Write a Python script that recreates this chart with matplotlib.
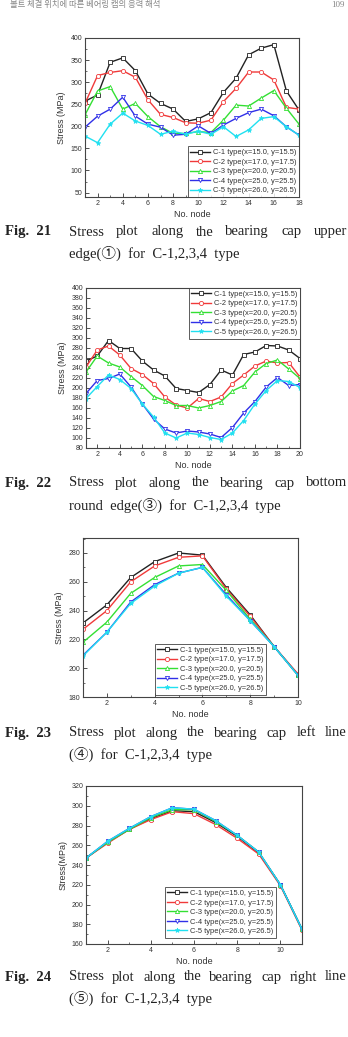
import matplotlib
matplotlib.use("Agg")
import matplotlib.pyplot as plt
from matplotlib.ticker import MultipleLocator

plt.rcParams['font.family'] = ['Liberation Sans', 'DejaVu Sans']

labels = ["C-1 type(x=15.0, y=15.5)", "C-2 type(x=17.0, y=17.5)",
          "C-3 type(x=20.0, y=20.5)", "C-4 type(x=25.0, y=25.5)",
          "C-5 type(x=26.0, y=26.5)"]
colors = ['#222222', '#f03a3a', '#33e033', '#3030e8', '#20e0f0']
markers = ['s', 'o', '^', 'v', '*']
mfills = ['none', 'none', 'none', 'none', 'full']

# Fig 21: upper edge (nodes 1..18)
nodes21 = list(range(1, 19))
f21_c1 = [257, 271, 345, 355, 326, 273, 252, 239, 211, 217, 231, 277, 309, 362, 377, 385, 280, 237]
f21_c2 = [252, 315, 322, 326, 311, 260, 227, 220, 208, 207, 214, 256, 286, 323, 323, 305, 243, 239]
f21_c3 = [226, 280, 290, 239, 252, 222, 199, 184, 184, 188, 186, 214, 248, 246, 264, 281, 241, 205]
f21_c4 = [198, 223, 239, 266, 223, 205, 198, 180, 182, 201, 184, 203, 218, 231, 239, 224, 199, 180]
f21_c5 = [178, 163, 205, 230, 212, 202, 182, 189, 182, 189, 182, 199, 177, 192, 218, 222, 199, 180]

# Fig 22: bottom round edge (nodes 1..20)
nodes22 = list(range(1, 21))
f22_c1 = [254, 264, 295, 279, 279, 254, 236, 224, 199, 195, 191, 207, 236, 226, 267, 272, 285, 284, 276, 259]
f22_c2 = [242, 276, 284, 266, 239, 227, 209, 182, 166, 160, 179, 173, 182, 209, 226, 244, 254, 250, 251, 222]
f22_c3 = [232, 264, 250, 242, 223, 205, 183, 175, 165, 165, 160, 165, 173, 194, 205, 232, 249, 256, 238, 219]
f22_c4 = [189, 215, 219, 228, 202, 168, 138, 118, 110, 114, 112, 108, 101, 121, 150, 173, 202, 221, 205, 207]
f22_c5 = [179, 203, 226, 217, 199, 168, 142, 110, 100, 110, 107, 101, 97, 110, 135, 168, 195, 215, 213, 201]

# Fig 23: left line (nodes 1..10)
nodes23 = list(range(1, 11))
f23_c1 = [231.4, 244, 263, 274, 280, 278.5, 256, 237, 215, 195.5]
f23_c2 = [227, 240, 260, 271, 277, 278, 255, 236, 215, 196]
f23_c3 = [218, 232, 252, 263, 271, 272, 254, 234, 215, 195]
f23_c4 = [209, 225, 246, 258, 266, 270, 251, 233, 215, 195]
f23_c5 = [208.5, 225, 245, 257, 266, 270, 250, 233, 215, 195]

# Fig 24: right line (nodes 1..11)
nodes24 = list(range(1, 12))
f24_c1 = [247, 263, 276, 287, 295, 294, 283, 269, 252, 220, 175]
f24_c2 = [247, 262, 276, 286, 294, 292, 281, 267, 251, 219, 174]
f24_c3 = [247, 263, 276, 288, 296, 296, 284, 270, 253, 220, 175]
f24_c4 = [247, 264, 277, 289, 298, 296.5, 285, 270, 253, 220, 175]
f24_c5 = [247, 264, 277, 289, 298, 296.5, 285, 270, 253, 220, 175]

W, H = 348, 1037
fig = plt.figure(figsize=(W / 100, H / 100), dpi=100)
fig.patch.set_facecolor('white')


def make_axes(l, r, t, b):
    return fig.add_axes([l / W, 1 - b / H, (r - l) / W, (b - t) / H])


def draw(ax, nodes, series, xlim, ylim, ymaj, ymin, ylabel, leg_bbox, leg_loc):
    for vals, c, m, fs, lab in zip(series, colors, markers, mfills, labels):
        if fs == 'none':
            ax.plot(nodes, vals, color=c, lw=1.0, marker=m, ms=3, mfc='white',
                    mec=c, mew=0.6, label=lab)
        else:
            ax.plot(nodes, vals, color=c, lw=1.0, marker=m, ms=3.5, mfc=c,
                    mec=c, mew=0.5, label=lab)
    ax.set_xlim(*xlim)
    ax.set_ylim(*ylim)
    ax.xaxis.set_major_locator(MultipleLocator(2))
    ax.xaxis.set_minor_locator(MultipleLocator(1))
    ax.yaxis.set_major_locator(MultipleLocator(ymaj))
    if ymin:
        ax.yaxis.set_minor_locator(MultipleLocator(ymin))
    ax.tick_params(which='both', direction='in', labelsize=5, pad=2, colors='#333333')
    ax.tick_params(which='major', length=3, width=0.6)
    ax.tick_params(which='minor', length=1.5, width=0.5)
    for s in ax.spines.values():
        s.set_linewidth(0.8)
        s.set_color('#444444')
    ax.set_xlabel("No. node", fontsize=6.5, labelpad=2, color='#333333')
    ax.set_ylabel(ylabel, fontsize=6.5, labelpad=3, color='#333333')
    leg = ax.legend(loc=leg_loc, bbox_to_anchor=leg_bbox, fontsize=5.4,
                    frameon=True, fancybox=False, borderpad=0.35,
                    labelspacing=0.3, handlelength=2.6, handletextpad=0.4,
                    borderaxespad=0)
    leg.get_frame().set_edgecolor('#333333')
    leg.get_frame().set_linewidth(0.7)
    for t in leg.get_texts():
        t.set_color('#333333')


ax1 = make_axes(85, 299, 38, 197)
draw(ax1, nodes21, [f21_c1, f21_c2, f21_c3, f21_c4, f21_c5], (1, 18), (40, 400),
     50, 25, "Stress (MPa)", (1.0, 0.0), 'lower right')

ax2 = make_axes(86, 300, 288, 448)
draw(ax2, nodes22, [f22_c1, f22_c2, f22_c3, f22_c4, f22_c5], (1, 20), (80, 400),
     20, None, "Stress (MPa)", (1.0, 1.0), 'upper right')

ax3 = make_axes(83, 298, 538, 697)
draw(ax3, nodes23, [f23_c1, f23_c2, f23_c3, f23_c4, f23_c5], (1, 10), (180, 290.4),
     20, 10, "Stress (MPa)", (0.85, 0.015), 'lower right')

ax4 = make_axes(86, 302, 786, 944)
draw(ax4, nodes24, [f24_c1, f24_c2, f24_c3, f24_c4, f24_c5], (1, 11), (160, 320),
     20, 10, "Stress(MPa)", (0.88, 0.04), 'lower right')

# page header (small, light grey, at the top edge)
fig.text(10 / W, 1 - 5 / H, "볼트 체결 위치에 따른 베어링 캡의 응력 해석", fontsize=6,
         family=['Noto Sans CJK KR'], va='center', ha='left', color='#888888')
fig.text(345 / W, 1 - 5 / H, "109", fontsize=6.5, family=['Liberation Serif'],
         va='center', ha='right', color='#888888')

# captions
renderer = fig.canvas.get_renderer()
serif = ['Liberation Serif', 'Noto Sans CJK KR', 'DejaVu Sans']
capsize = 10.5


def caption(num, y1, y2, words1, line2):
    fig.text(5 / W, 1 - y1 / H, "Fig.  " + num, fontsize=capsize, family=serif,
             fontweight='bold', va='center', ha='left', color='#222222')
    # justified first line from x=69 to x=347
    x0, x1 = 69, 347
    objs = [fig.text(0, 1 - y1 / H, w, fontsize=capsize, family=serif,
                     va='center', ha='left', color='#222222') for w in words1]
    widths = [o.get_window_extent(renderer).width for o in objs]
    gap = (x1 - x0 - sum(widths)) / (len(words1) - 1)
    x = x0
    for o, w in zip(objs, widths):
        o.set_x(x / W)
        x += w + gap
    fig.text(x0 / W, 1 - y2 / H, line2, fontsize=capsize, family=serif,
             va='center', ha='left', color='#222222')


caption("21", 232, 253, ["Stress", "plot", "along", "the", "bearing", "cap", "upper"],
        "edge(\u2460)  for  C-1,2,3,4  type")
caption("22", 483, 505, ["Stress", "plot", "along", "the", "bearing", "cap", "bottom"],
        "round  edge(\u2462)  for  C-1,2,3,4  type")
caption("23", 733, 754, ["Stress", "plot", "along", "the", "bearing", "cap", "left", "line"],
        "(\u2463)  for  C-1,2,3,4  type")
caption("24", 977, 998, ["Stress", "plot", "along", "the", "bearing", "cap", "right", "line"],
        "(\u2464)  for  C-1,2,3,4  type")

fig.savefig("out.png", dpi=100, facecolor='white')
